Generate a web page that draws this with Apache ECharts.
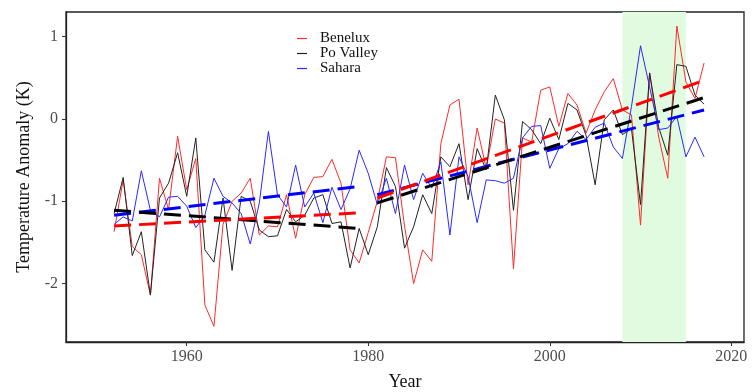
<!DOCTYPE html>
<html>
<head>
<meta charset="utf-8">
<script src="https://cdn.jsdelivr.net/npm/echarts@6/dist/echarts.min.js"></script>
<style>
    html, body { margin: 0; padding: 0; background: #fff; }
    #chart { width: 752px; height: 392px; }
</style>
</head>
<body>
<div id="chart"></div>
<script>
// 年份 1952-2017
const years = [];
for (let y = 1952; y <= 2017; y++) years.push(y);

const benelux = [
    -1.37, -0.74, -1.55, -1.65, -2.14, -0.72, -1.10, -0.21, -0.86, -0.48,
    -2.26, -2.52, -1.28, -1.00, -0.90, -0.72, -1.41, -1.30, -1.31, -0.92,
    -1.45, -0.92, -0.71, -0.70, -0.49, -0.78, -1.59, -1.75, -1.38, -1.00,
    -0.46, -0.47, -1.30, -2.00, -1.59, -1.73, -0.30, 0.17, 0.24, -0.80,
    -0.11, -0.60, 0.00, -0.05, -1.82, -0.23, -0.28, 0.35, 0.39, -0.09,
    0.31, 0.17, -0.17, 0.11, 0.33, 0.49, 0.11, 0.05, -1.29, 0.56,
    -0.22, -0.72, 1.13, 0.45, 0.25, 0.68
];
const poValley = [
    -1.15, -0.71, -1.66, -1.37, -2.14, -0.96, -0.78, -0.41, -0.94, -0.23,
    -1.59, -1.74, -0.96, -1.84, -0.94, -1.00, -1.35, -1.43, -1.42, -1.10,
    -1.25, -1.17, -0.96, -0.92, -1.27, -1.25, -1.81, -1.33, -1.65, -1.31,
    -0.59, -0.82, -1.57, -1.31, -0.92, -1.15, -0.46, -0.58, -0.30, -0.98,
    -0.36, -0.62, 0.29, -0.01, -1.11, -0.03, -0.13, -0.30, 0.01, -0.25,
    0.19, 0.11, -0.20, -0.80, -0.01, 0.11, -0.19, -0.12, -1.04, 0.56,
    -0.10, -0.44, 0.66, 0.64, 0.29, 0.18
];
const sahara = [
    -1.28, -1.19, -1.24, -0.63, -1.11, -1.19, -0.95, -0.94, -1.06, -1.32,
    -1.17, -0.72, -0.94, -1.02, -1.15, -1.52, -1.02, -0.15, -0.92, -1.07,
    -0.56, -1.07, -0.90, -1.26, -0.83, -1.10, -0.85, -0.38, -0.66, -1.04,
    -0.72, -1.15, -0.56, -0.98, -0.66, -0.84, -0.52, -1.41, -0.46, -0.70,
    -1.26, -0.74, -0.75, -0.78, -0.72, -0.23, -0.09, -0.08, -0.60, -0.36,
    -0.30, -0.15, -0.25, -0.10, -0.05, -0.34, -0.48, 0.15, 0.89, 0.39,
    -0.13, -0.11, 0.03, -0.46, -0.22, -0.46
];

// 趋势线端点
const trendEarlyYears = [1952, 1979];
const trendLateYears = [1981, 2017];
const beneluxTrendEarly = [-1.30, -1.14];
const beneluxTrendLate = [-0.96, 0.47];
const poTrendEarly = [-1.11, -1.33];
const poTrendLate = [-1.02, 0.26];
const saharaTrendEarly = [-1.17, -0.82];
const saharaTrendLate = [-0.92, 0.11];

// 绿色区间
const bandYears = [2008, 2015];

const xTicks = [1960, 1980, 2000, 2020];
const yTicks = [-2, -1, 0, 1];

const pairs = (xs, ys) => xs.map((x, i) => [x, ys[i]]);

const font = 'Liberation Serif';
const dash = [17, 8];

const trend = (name, xs, ys, color) => ({
    name: name,
    type: 'line',
    data: pairs(xs, ys),
    showSymbol: false,
    silent: true,
    lineStyle: { color: color, width: 3, type: dash },
    z: 5
});

const chart = echarts.init(document.getElementById('chart'));
chart.setOption({
    animation: false,
    grid: {
        left: 66, right: 8, top: 12, bottom: 50,
        outerBoundsMode: 'none',
        containLabel: false,
        show: true, borderColor: '#222', borderWidth: 1.3
    },
    legend: {
        orient: 'vertical',
        left: 292, top: 26,
        data: ['Benelux', 'Po Valley', 'Sahara'],
        icon: 'rect',
        itemWidth: 10, itemHeight: 1.2,
        itemGap: 0,
        textStyle: { fontFamily: font, fontSize: 15, color: '#111', lineHeight: 14, padding: [0, 0, 0, 8] }
    },
    xAxis: {
        type: 'value',
        min: 1946.7, max: 2021.4,
        name: 'Year',
        nameLocation: 'middle',
        nameGap: 31,
        nameTextStyle: { fontFamily: font, fontSize: 18, color: '#111' },
        splitLine: { show: false },
        axisLine: { onZero: false, lineStyle: { color: '#222', width: 1.3 } },
        axisTick: { customValues: xTicks, length: 4, lineStyle: { color: '#333' } },
        axisLabel: {
            customValues: xTicks, margin: 7, fontFamily: font, fontSize: 16, color: '#4d4d4d',
            formatter: v => String(v)
        }
    },
    yAxis: {
        type: 'value',
        min: -2.71, max: 1.30,
        name: 'Temperature Anomaly (K)',
        nameLocation: 'middle',
        nameGap: 33,
        nameTextStyle: { fontFamily: font, fontSize: 18, color: '#111' },
        splitLine: { show: false },
        axisLine: { show: true, onZero: false, lineStyle: { color: '#222', width: 1.3 } },
        axisTick: { show: true, customValues: yTicks, length: 4, lineStyle: { color: '#333' } },
        axisLabel: { customValues: yTicks, margin: 8, fontFamily: font, fontSize: 16, color: '#4d4d4d' }
    },
    series: [
        {
            name: 'Benelux',
            type: 'line',
            data: pairs(years, benelux),
            showSymbol: false,
            lineStyle: { color: '#ff2a2a', width: 1 },
            itemStyle: { color: '#ff2a2a' },
            markArea: {
                silent: true,
                itemStyle: { color: '#e1fbe1' },
                data: [[{ xAxis: bandYears[0] }, { xAxis: bandYears[1] }]]
            },
            z: 3
        },
        {
            name: 'Po Valley',
            type: 'line',
            data: pairs(years, poValley),
            showSymbol: false,
            lineStyle: { color: '#222', width: 1 },
            itemStyle: { color: '#222' },
            z: 3
        },
        {
            name: 'Sahara',
            type: 'line',
            data: pairs(years, sahara),
            showSymbol: false,
            lineStyle: { color: '#2a2aff', width: 1 },
            itemStyle: { color: '#2a2aff' },
            z: 3
        },
        trend('t1', trendEarlyYears, saharaTrendEarly, '#0000ff'),
        trend('t2', trendEarlyYears, poTrendEarly, '#000'),
        trend('t3', trendEarlyYears, beneluxTrendEarly, '#ff0000'),
        trend('t4', trendLateYears, saharaTrendLate, '#0000ff'),
        trend('t5', trendLateYears, poTrendLate, '#000'),
        trend('t6', trendLateYears, beneluxTrendLate, '#ff0000')
    ]
});
</script>
</body>
</html>
